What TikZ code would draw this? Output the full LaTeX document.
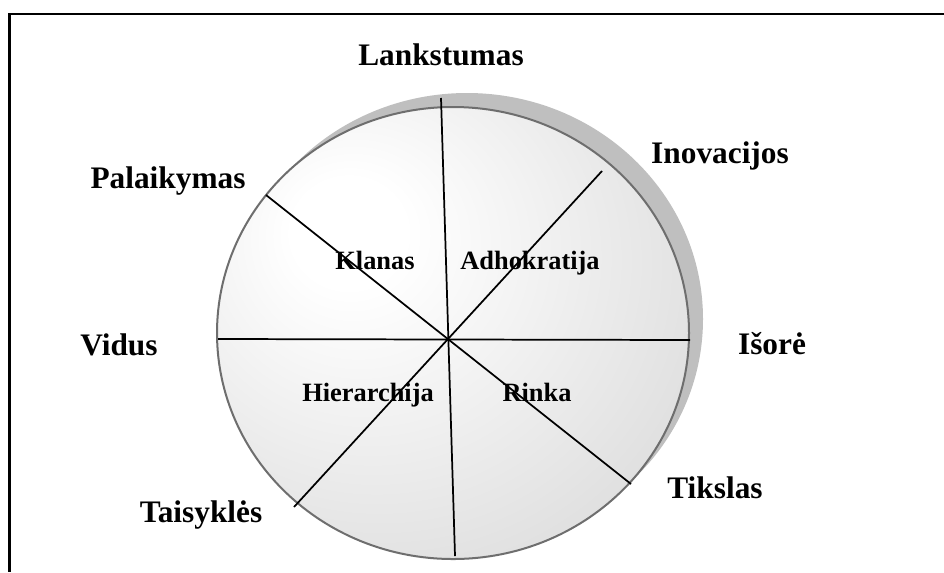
\documentclass[tikz,border=0pt]{standalone}
\usepackage{fontspec}
\setmainfont{Liberation Serif}
% light centre fading to grey at the rim
\pgfdeclareradialshading{discshade}{\pgfpoint{-12bp}{12bp}}{%
  color(0bp)=(white); color(6bp)=(white);
  color(58bp)=(black!22); color(80bp)=(black!22)}
\begin{document}
\begin{tikzpicture}[x=0.75pt,y=-0.75pt,
  outer/.style={font=\bfseries\fontsize{23.5}{28}\selectfont, anchor=base, inner sep=0pt},
  inner/.style={font=\bfseries\fontsize{19.8}{24}\selectfont, anchor=base, inner sep=0pt},
  spoke/.style={line width=1.3pt, black},
  frame/.style={line width=1.6pt, black}]
\useasboundingbox (0,0) rectangle (944,572);

% open frame: top and left edges
\draw[frame] (944,14) -- (9.5,14) -- (9.5,572);

% drop shadow and the disc
\fill[black!25] (467,319) ellipse [x radius=236, y radius=226];
\shade[shading=discshade, draw=black!57, line width=1.5pt]
  (453,333) ellipse [x radius=236, y radius=226];

% spoke end points
\coordinate (n)  at (441,98);
\coordinate (s)  at (455,556);
\coordinate (w)  at (218,339);
\coordinate (e)  at (690,340);
\coordinate (ne) at (602,171);
\coordinate (sw) at (294,507);
\coordinate (nw) at (266,195);
\coordinate (se) at (631,484);

\draw[spoke] (n) -- (s);
\draw[spoke] (w) -- (e);
\draw[spoke] (ne) -- (sw);
\draw[spoke] (nw) -- (se);

% culture types inside the disc
\node[inner] (klanas) at (375,269) {Klanas};
\node[inner] (adhok)  at (530,269) {Adhokratija};
\node[inner] (hier)   at (368,401) {Hierarchija};
\node[inner] (rinka)  at (537,401) {Rinka};

% dimension poles around the disc
\node[outer] (lank) at (441,65)  {Lankstumas};
\node[outer] (inov) at (720,163) {Inovacijos};
\node[outer] (pal)  at (168,188) {Palaikymas};
\node[outer] (vid)  at (119,355) {Vidus};
\node[outer] (isor) at (772,354) {Išorė};
\node[outer] (tiks) at (715,498) {Tikslas};
\node[outer] (tais) at (201,522) {Taisyklės};
\end{tikzpicture}
\end{document}
